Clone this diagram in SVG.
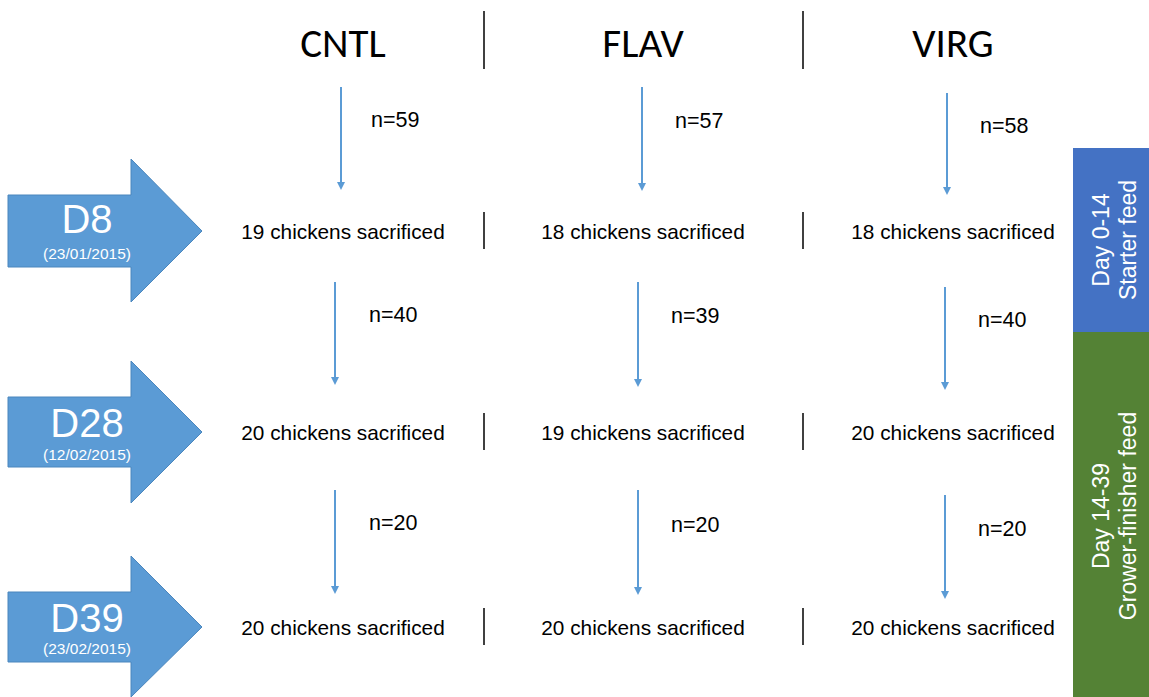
<svg xmlns="http://www.w3.org/2000/svg" width="1149" height="697" viewBox="0 0 1149 697">
<style>
.hdr{font-family:"Carlito","Lato","Liberation Sans",sans-serif;font-size:41px;fill:#000;text-anchor:middle}
.t{font-family:"Liberation Sans",Arial,sans-serif;font-size:20.8px;fill:#000;text-anchor:middle}
.n{font-family:"Liberation Sans",Arial,sans-serif;font-size:21.5px;fill:#000}
.big{font-family:"Liberation Sans",Arial,sans-serif;font-size:40px;fill:#fff;text-anchor:middle}
.date{font-family:"Liberation Sans",Arial,sans-serif;font-size:15.5px;fill:#fff;text-anchor:middle}
.side{font-family:"Liberation Sans",Arial,sans-serif;font-size:23px;fill:#fff;text-anchor:middle}
.div{stroke:#000;stroke-width:1.5}
.ar{stroke:#5B9BD5;stroke-width:2;fill:none;marker-end:url(#ah)}
.bigarrow{fill:#5B9BD5;stroke:#4A86BD;stroke-width:1}
</style>
<defs>
<marker id="ah" markerWidth="8" markerHeight="8" refX="6" refY="4" orient="auto" markerUnits="userSpaceOnUse">
<path d="M0,0 L8,4 L0,8 Z" fill="#5B9BD5"/>
</marker>
</defs>
<g id="headers">
<text class="hdr" x="343" y="57">CNTL</text>
<text class="hdr" x="643" y="57">FLAV</text>
<text class="hdr" x="953" y="57">VIRG</text>
<line class="div" x1="484" y1="11" x2="484" y2="69"/>
<line class="div" x1="803" y1="11" x2="803" y2="69"/>
</g>
<g id="day-D8">
<path class="bigarrow" d="M8,195 L131,195 L131,159 L202,231 L131,302 L131,267 L8,267 Z"/>
<text class="big" x="87" y="233">D8</text>
<text class="date" x="87" y="259">(23/01/2015)</text>
</g>
<g id="day-D28">
<path class="bigarrow" d="M8,397 L131,397 L131,361 L202,432 L131,503 L131,467 L8,467 Z"/>
<text class="big" x="87" y="437">D28</text>
<text class="date" x="87" y="460">(12/02/2015)</text>
</g>
<g id="day-D39">
<path class="bigarrow" d="M8,592 L131,592 L131,556 L202,627 L131,697 L131,662 L8,662 Z"/>
<text class="big" x="87" y="632">D39</text>
<text class="date" x="87" y="654">(23/02/2015)</text>
</g>
<g id="row1">
<text class="t" x="343" y="239">19 chickens sacrificed</text>
<text class="t" x="643" y="239">18 chickens sacrificed</text>
<text class="t" x="953" y="239">18 chickens sacrificed</text>
<line class="div" x1="484" y1="212" x2="484" y2="249"/>
<line class="div" x1="803" y1="212" x2="803" y2="249"/>
</g>
<g id="row2">
<text class="t" x="343" y="440">20 chickens sacrificed</text>
<text class="t" x="643" y="440">19 chickens sacrificed</text>
<text class="t" x="953" y="440">20 chickens sacrificed</text>
<line class="div" x1="484" y1="413" x2="484" y2="450"/>
<line class="div" x1="803" y1="413" x2="803" y2="450"/>
</g>
<g id="row3">
<text class="t" x="343" y="635">20 chickens sacrificed</text>
<text class="t" x="643" y="635">20 chickens sacrificed</text>
<text class="t" x="953" y="635">20 chickens sacrificed</text>
<line class="div" x1="484" y1="608" x2="484" y2="645"/>
<line class="div" x1="803" y1="608" x2="803" y2="645"/>
</g>
<g id="feed-starter">
<rect x="1073" y="148" width="76" height="184" fill="#4472C4"/>
<text class="side" transform="translate(1111,240) rotate(-90)"><tspan x="0" y="-2">Day 0-14</tspan><tspan x="0" y="25">Starter feed</tspan></text>
</g>
<g id="feed-grower">
<rect x="1073" y="332" width="76" height="365" fill="#548235"/>
<text class="side" transform="translate(1111,516) rotate(-90)"><tspan x="0" y="-2">Day 14-39</tspan><tspan x="0" y="25">Grower-finisher feed</tspan></text>
</g>
<g id="connectors">
<line class="ar" x1="341" y1="87" x2="341" y2="188"/>
<line class="ar" x1="642" y1="87" x2="642" y2="189"/>
<line class="ar" x1="947" y1="93" x2="947" y2="193"/>
<line class="ar" x1="335" y1="282" x2="335" y2="383"/>
<line class="ar" x1="638" y1="282" x2="638" y2="385"/>
<line class="ar" x1="945" y1="287" x2="945" y2="388"/>
<line class="ar" x1="335" y1="490" x2="335" y2="592"/>
<line class="ar" x1="638" y1="490" x2="638" y2="593"/>
<line class="ar" x1="945" y1="495" x2="945" y2="597"/>
<text class="n" x="371" y="127">n=59</text>
<text class="n" x="675" y="128">n=57</text>
<text class="n" x="980" y="133">n=58</text>
<text class="n" x="369" y="322">n=40</text>
<text class="n" x="671" y="323">n=39</text>
<text class="n" x="978" y="327">n=40</text>
<text class="n" x="369" y="530">n=20</text>
<text class="n" x="671" y="532">n=20</text>
<text class="n" x="978" y="536">n=20</text>
</g>
</svg>
